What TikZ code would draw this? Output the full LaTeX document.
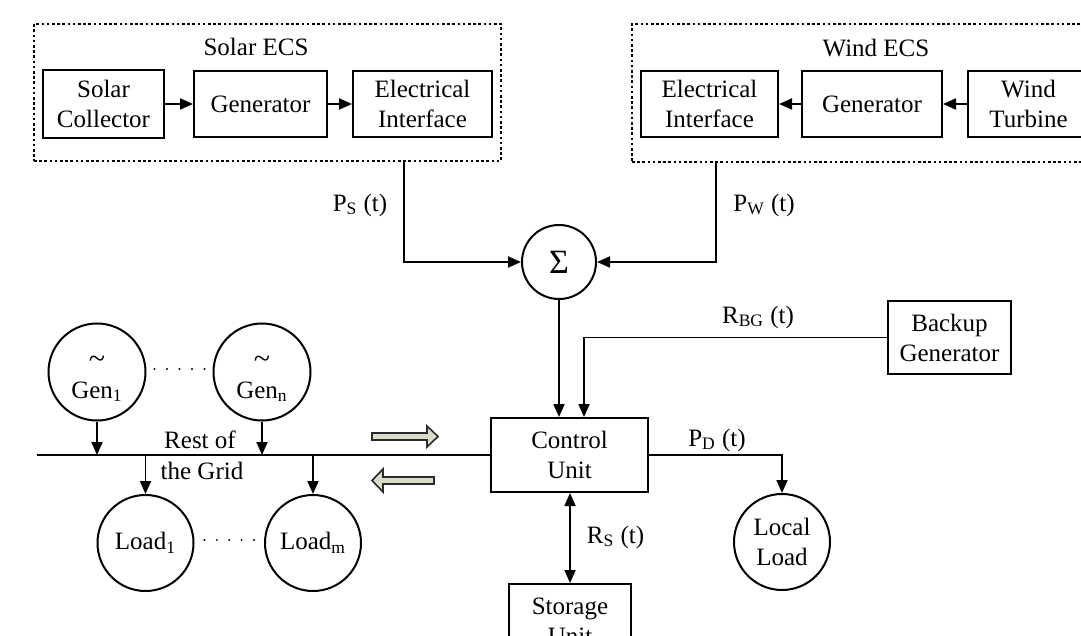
\documentclass[tikz,border=0pt]{standalone}
\usepackage{fontspec}
\setmainfont{Liberation Serif}
\usetikzlibrary{arrows.meta,calc}
\definecolor{blockfill}{HTML}{D8DCC8}
\definecolor{blockline}{HTML}{2A2A2A}
\begin{document}
\begin{tikzpicture}[x=0.5pt,y=-0.5pt,
  every node/.style={font=\fontsize{12.5}{15}\selectfont, inner sep=0pt, align=center},
  blk/.style={draw, line width=1pt},
  ecsbox/.style={draw, line width=0.9pt, dash pattern=on 1.3pt off 1.3pt},
  circ/.style={draw, line width=1pt, circle},
  conn/.style={line width=0.9pt},
  bigarrow/.style={draw=blockline, fill=blockfill, line width=0.8pt, line join=miter},
  >={Triangle[length=6.5pt,width=5.5pt]}
]
\useasboundingbox (0,0) rectangle (1081,636);
\clip (0,0) rectangle (1081,636);

% ---- ECS boxes
\node[ecsbox, minimum width=233.5pt, minimum height=68.5pt] (solarbox) at (267.5,92.5) {};
\node[ecsbox, minimum width=240pt, minimum height=69pt] (windbox) at (872,93) {};
\node (solarlbl) at (256,47) {Solar ECS};
\node (windlbl) at (876,48) {Wind ECS};

\node[blk, minimum width=60.5pt, minimum height=34pt] (scol) at (103.5,104) {Solar\\Collector};
\node[blk, minimum width=66.5pt, minimum height=33pt] (sgen) at (260.5,104) {Generator};
\node[blk, minimum width=69.5pt, minimum height=33pt] (sei) at (422.5,104) {Electrical\\Interface};

\node[blk, minimum width=68.5pt, minimum height=33pt] (wei) at (709.5,104) {Electrical\\Interface};
\node[blk, minimum width=70pt, minimum height=33pt] (wgen) at (872,104) {Generator};
\node[blk, minimum width=60.5pt, minimum height=33pt] (wtur) at (1028.5,104) {Wind\\Turbine};

\draw[conn,->] (scol) -- (sgen);
\draw[conn,->] (sgen) -- (sei);
\draw[conn,->] (wtur) -- (wgen);
\draw[conn,->] (wgen) -- (wei);

% ---- summation
\node[circ, minimum size=37pt, font=\fontsize{17}{17}\selectfont] (sigma) at (559,262) {Σ};
\coordinate (psx) at (404,0);
\coordinate (pwx) at (716,0);
\draw[conn,->] (solarbox.south -| psx) |- (sigma.west);
\draw[conn,->] (windbox.south -| pwx) |- (sigma.east);
\node (pslbl) at (360,205) {P\textsubscript{S} (t)};
\node (pwlbl) at (764,205) {P\textsubscript{W} (t)};

% ---- control unit and neighbours
\node[blk, minimum width=78.5pt, minimum height=37pt] (cu) at (569.5,455) {Control\\Unit};
\node[blk, minimum width=61.5pt, minimum height=36.5pt] (bg) at (949.5,337.5) {Backup\\Generator};
\node[blk, minimum width=61pt, minimum height=37pt] (su) at (570,621) {Storage\\Unit};
\node[circ, minimum size=48pt] (ll) at (782,542) {Local\\Load};

\draw[conn,->] (sigma.south) -- (sigma.south |- cu.north);
\coordinate (rbgx) at (584,0);
\draw[conn,->] (bg.west) -| (rbgx |- cu.north);
\node (rbglbl) at (758,317) {R\textsubscript{BG} (t)};

\draw[conn,->] (cu.east) -| (ll.north);
\node (pdlbl) at (717,440) {P\textsubscript{D} (t)};

\draw[conn,<->] (cu.south -| su.north) -- (su.north);
\node (rslbl) at (615.5,537) {R\textsubscript{S} (t)};

% ---- rest of the grid
\coordinate (gridL) at (37,455);
\draw[conn] (gridL) -- (cu.west);
\node (grid1) at (200,440) {Rest of};
\node (grid2) at (202,471) {the Grid};

\node[circ, minimum size=48.5pt] (gen1) at (97,372) {\rule{0pt}{13pt}{\fontsize{15}{15}\selectfont\textasciitilde}\\Gen\textsubscript{1}};
\node[circ, minimum size=48.5pt] (genn) at (262,372) {\rule{0pt}{13pt}{\fontsize{15}{15}\selectfont\textasciitilde}\\Gen\textsubscript{n}};
\node[circ, minimum size=48pt] (load1) at (145.5,543) {Load\textsubscript{1}};
\node[circ, minimum size=48pt] (loadm) at (313,543) {Load\textsubscript{m}};

\draw[conn,->] (gen1.south) -- (gen1.south |- gridL);
\draw[conn,->] (genn.south) -- (genn.south |- gridL);
\draw[conn,->] (load1.north |- gridL) -- (load1.north);
\draw[conn,->] (loadm.north |- gridL) -- (loadm.north);

\foreach \p in {0,0.25,0.5,0.75,1} {
  \fill ($([xshift=4pt,yshift=1.5pt]gen1.east)!\p!([xshift=-4pt,yshift=1.5pt]genn.west)$) circle (0.55pt);
  \fill ($([xshift=5pt,yshift=1.5pt]load1.east)!\p!([xshift=-5pt,yshift=1.5pt]loadm.west)$) circle (0.55pt);
}

% ---- exchange arrows
\draw[bigarrow] (372,433) -- (427,433) -- (427,426) -- (438,436.5) -- (427,447) -- (427,440) -- (372,440) -- cycle;
\draw[bigarrow] (434,477) -- (383,477) -- (383,469) -- (372,480.5) -- (383,492) -- (383,484) -- (434,484) -- cycle;
\end{tikzpicture}
\end{document}
